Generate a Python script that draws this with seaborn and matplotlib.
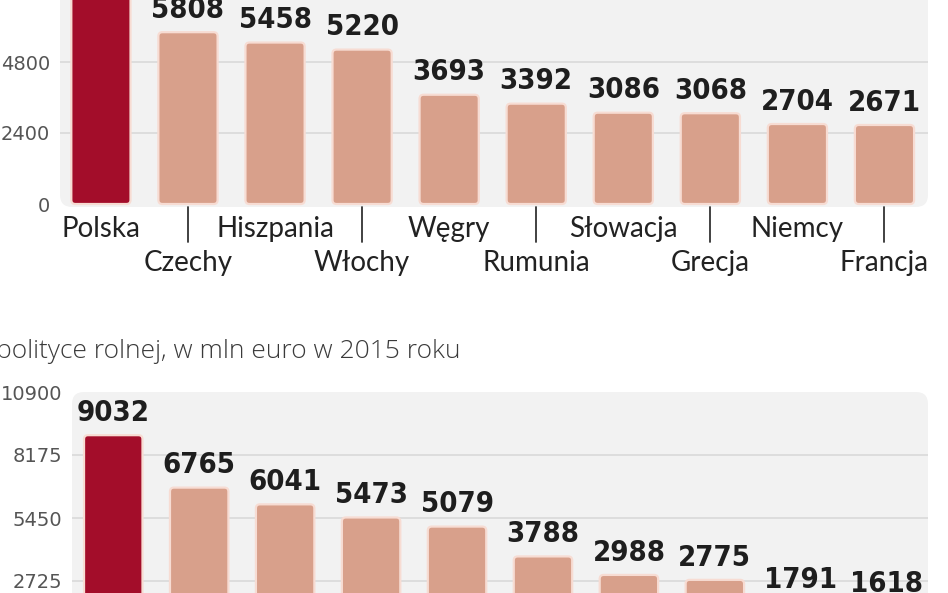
import matplotlib
matplotlib.use("Agg")
import matplotlib.pyplot as plt
import matplotlib.transforms as mtransforms
from matplotlib.patches import FancyBboxPatch
import seaborn as sns

# Data
# top chart - first bar (Polska) runs past the top edge, its value is a guess
top_countries = ["Polska", "Czechy", "Hiszpania", "Włochy", "Węgry",
                 "Rumunia", "Słowacja", "Grecja", "Niemcy", "Francja"]
top_values = [7600, 5808, 5458, 5220, 3693, 3392, 3086, 3068, 2704, 2671]
top_ticks = [0, 2400, 4800]

# bottom chart - country names are cut off below the picture
bottom_title = "polityce rolnej, w mln euro w 2015 roku"
bottom_slots = ["1", "2", "3", "4", "5", "6", "7", "8", "9", "10"]
bottom_values = [9032, 6765, 6041, 5473, 5079, 3788, 2988, 2775, 1791, 1618]
bottom_ticks = [2725, 5450, 8175, 10900]

RED = "#a30d2a"
SALMON = "#d8a08b"
EDGE = "#f7dcd3"
PANEL = "#f2f2f2"
GRID = "#d9d9d9"

W, H = 948, 593

sns.set_style("white")
plt.rcParams["font.family"] = ["Lato", "DejaVu Sans"]

fig = plt.figure(figsize=(W / 100, H / 100), dpi=100)
fig.patch.set_facecolor("white")


def px_axes(left, top, right, bottom):
    # axes placed by pixel edges (may run outside the figure)
    return fig.add_axes([left / W, 1 - bottom / H, (right - left) / W, (bottom - top) / H])


def round_bars(ax, radius_px=4):
    p0 = ax.transData.transform((0, 0))
    p1 = ax.transData.transform((1, 1))
    sx, sy = p1 - p0
    r = radius_px / sx
    for bar in list(ax.patches):
        fancy = FancyBboxPatch((bar.get_x(), bar.get_y()), bar.get_width(), bar.get_height(),
                               boxstyle=f"round,pad=0,rounding_size={r}",
                               mutation_aspect=sx / sy,
                               facecolor=bar.get_facecolor(), edgecolor=EDGE,
                               linewidth=1.6, zorder=3)
        ax.add_patch(fancy)
        bar.set_visible(False)


def rounded_panel(ax, radius_px=12):
    bb = ax.get_window_extent()
    panel = FancyBboxPatch((0, 0), 1, 1, transform=ax.transAxes,
                           boxstyle=f"round,pad=0,rounding_size={radius_px / bb.width}",
                           mutation_aspect=bb.width / bb.height,
                           facecolor=PANEL, edgecolor="none", zorder=0)
    ax.add_patch(panel)
    ax.patch.set_visible(False)


def draw_panel(ax, cats, values, ticks, ylim, xlim):
    colors = [RED] + [SALMON] * (len(cats) - 1)
    sns.barplot(x=cats, y=values, hue=cats, palette=colors, legend=False,
                width=0.68, ax=ax, saturation=1)
    ax.set_xlim(*xlim)
    ax.set_ylim(*ylim)
    for s in ax.spines.values():
        s.set_visible(False)
    ax.set_yticks(ticks)
    ax.set_yticklabels([str(t) for t in ticks], fontsize=14, color="#555555",
                       fontfamily="DejaVu Sans")
    ax.tick_params(axis="y", length=0, pad=7)
    ax.set_xticks([])
    ax.grid(False)
    # grid only on the inner ticks
    for t in ticks:
        if ylim[0] < t < ylim[1] and t != 0:
            ax.axhline(t, color=GRID, lw=1.2, zorder=1)
    ax.set_xlabel("")
    ax.set_ylabel("")
    for cont in ax.containers:
        ax.bar_label(cont, fmt="%d", padding=6, fontsize=21, fontweight="bold",
                     fontstretch="condensed", color="#1e1e1e",
                     fontfamily=["DejaVu Sans"])
    round_bars(ax)
    rounded_panel(ax)


# top panel: 0 at y=204px, 4800 at y=62px
top_scale = 142 / 4800
top_ylim = (-100, 8400)
ax1 = px_axes(60, 204 - top_ylim[1] * top_scale, 928, 204 - top_ylim[0] * top_scale)
draw_panel(ax1, top_countries, top_values, top_ticks, top_ylim, (-0.47, 9.5))

# category labels on two rows, with little lines for the lower row
lab_tr = mtransforms.blended_transform_factory(ax1.transData, fig.transFigure)
for i, name in enumerate(top_countries):
    if i % 2 == 0:
        ax1.text(i, 1 - 229 / H, name, transform=lab_tr, ha="center", va="center",
                 fontsize=20, color="#222222", clip_on=False)
    else:
        ax1.text(i, 1 - 263 / H, name, transform=lab_tr, ha="center", va="center",
                 fontsize=20, color="#222222", clip_on=False)
        ax1.plot([i, i], [1 - 207 / H, 1 - 242 / H], transform=lab_tr,
                 color="#333333", lw=1.3, clip_on=False)

# bottom panel: 10900 at y=392px, 0 at y=644px (below the picture)
ax2 = px_axes(72, 392, 928, 644)
draw_panel(ax2, bottom_slots, bottom_values, bottom_ticks, (0, 10900), (-0.48, 9.48))

fig.text(-0.004, 1 - 351 / H, bottom_title, ha="left", va="center",
         fontsize=19, color="#3a3a3a", fontfamily=["Open Sans", "DejaVu Sans"],
         fontweight="light")

fig.savefig("out.png", dpi=100, facecolor="white")
